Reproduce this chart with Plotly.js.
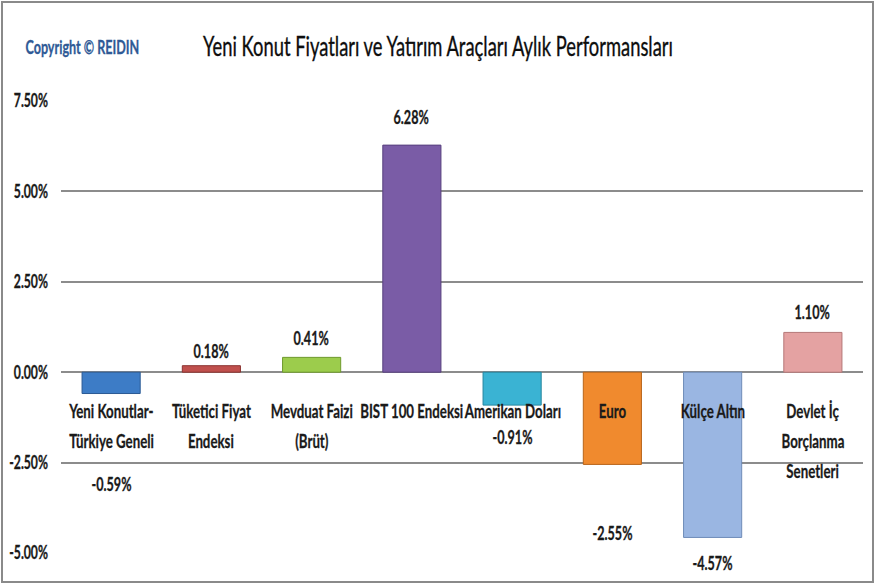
<!DOCTYPE html>
<html>
<head>
<meta charset="utf-8">
<script src="https://cdn.plot.ly/plotly-3.0.1.min.js"></script>
<style>
html,body{margin:0;padding:0;background:#fff;}
#wrap{position:relative;width:875px;height:584px;}
#chart{width:875px;height:584px;}
#frame{position:absolute;left:1px;top:1px;width:869px;height:578px;border:2px solid #8a8a8a;pointer-events:none;}
</style>
</head>
<body>
<div id="wrap"><div id="chart"></div><div id="frame"></div></div>
<script>
// Data
const categoryLines = [
  ["Yeni Konutlar-", "Türkiye Geneli"],
  ["Tüketici Fiyat", "Endeksi"],
  ["Mevduat Faizi", "(Brüt)"],
  ["BIST 100 Endeksi"],
  ["Amerikan Doları"],
  ["Euro"],
  ["Külçe Altın"],
  ["Devlet İç", "Borçlanma", "Senetleri"]
];
const values = [-0.59, 0.18, 0.41, 6.28, -0.91, -2.55, -4.57, 1.10];
const valueLabels = ["-0.59%", "0.18%", "0.41%", "6.28%", "-0.91%", "-2.55%", "-4.57%", "1.10%"];
const yTickVals = [-5, -2.5, 0, 2.5, 5, 7.5];
const yTickText = ["-5.00%", "-2.50%", "0.00%", "2.50%", "5.00%", "7.50%"];

// Styles
const barColors = ["#3d7cc6", "#c0504d", "#9ccc4c", "#7a5ca6", "#3ab3d3", "#f08a2e", "#9ab6e2", "#e4a2a2"];
const barEdges  = ["#2a5a94", "#8c3331", "#6f9a2e", "#58407e", "#25869f", "#b8651a", "#6f8cb8", "#b57878"];
const labelShift = [-90, 15, 19, 28, -32, -69, -26, 20];
const FONT = 'Lato, "Open Sans", sans-serif';

const x = categoryLines.map((_, i) => i);

const trace = {
  type: 'bar',
  x: x,
  y: values,
  width: 0.58,
  marker: {color: barColors, line: {color: barEdges, width: 1}},
  hoverinfo: 'skip'
};

const annotations = [];
values.forEach((v, i) => {
  annotations.push({
    x: i, y: v, xref: 'x', yref: 'y',
    text: valueLabels[i], showarrow: false,
    yanchor: 'middle', yshift: labelShift[i],
    font: {family: FONT, size: 18, color: '#1a1a1a', weight: 'bold'}
  });
  categoryLines[i].forEach((line, j) => {
    annotations.push({
      x: i, y: 0, xref: 'x', yref: 'y',
      text: line, showarrow: false,
      yanchor: 'middle', yshift: -38 - 30 * j,
      font: {family: FONT, size: 19, color: '#1a1a1a', weight: 'bold'}
    });
  });
});

const margin = {l: 61, r: 12, t: 101, b: 31};
const W = 875, H = 584;
const pw = W - margin.l - margin.r, ph = H - margin.t - margin.b;
annotations.push({
  x: (82 - margin.l) / pw, y: (H - margin.b - 47) / ph, xref: 'paper', yref: 'paper',
  xanchor: 'center', yanchor: 'middle',
  text: 'Copyright © REIDIN', showarrow: false,
  font: {family: FONT, size: 18, color: '#2f5a96', weight: 'bold'}
});

const layout = {
  width: W, height: H,
  margin: margin,
  paper_bgcolor: '#ffffff',
  plot_bgcolor: '#ffffff',
  showlegend: false,
  title: {
    text: 'Yeni Konut Fiyatları ve Yatırım Araçları Aylık Performansları',
    x: 438 / W, xanchor: 'center', y: 1 - 47 / H, yanchor: 'middle',
    font: {family: FONT, size: 27, color: '#0d0d0d'}
  },
  xaxis: {
    range: [-0.5, 7.5], showticklabels: false, showgrid: false,
    zeroline: false, showline: false, ticks: '', fixedrange: true
  },
  yaxis: {
    range: [-5, 7.5], tickvals: yTickVals, ticktext: yTickText,
    showgrid: true, gridcolor: '#8c8c8c', gridwidth: 2,
    zeroline: true, zerolinecolor: '#8c8c8c', zerolinewidth: 2,
    showline: false, ticks: '', ticklabelstandoff: 12,
    tickfont: {family: FONT, size: 18, color: '#1a1a1a', weight: 'bold'},
    fixedrange: true
  },
  annotations: annotations
};

function squish(nodes, sx, stroke) {
  nodes.forEach(t => {
    const ax = parseFloat(t.getAttribute('x') || '0');
    const prev = t.getAttribute('transform') || '';
    t.setAttribute('transform', prev + ' translate(' + ax + ',0) scale(' + sx + ',1) translate(' + (-ax) + ',0)');
    if (stroke) {
      const fill = t.style.fill || '#1a1a1a';
      t.style.stroke = fill;
      t.style.strokeWidth = stroke + 'px';
    }
  });
}

Plotly.newPlot('chart', [trace], layout, {displayModeBar: false, staticPlot: true})
  .then(gd => {
    squish(gd.querySelectorAll('.gtitle'), 0.68, 0.35);
    squish(gd.querySelectorAll('.ytick text'), 0.68, 0.3);
    squish(gd.querySelectorAll('.annotation-text'), 0.7, 0.3);
  });
</script>
</body>
</html>
